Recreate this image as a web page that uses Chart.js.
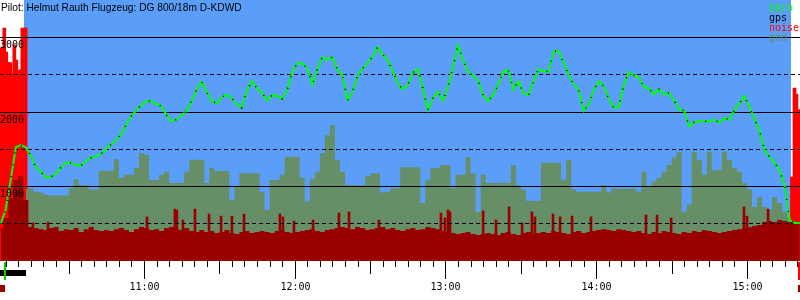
<!DOCTYPE html>
<html>
<head>
<meta charset="utf-8">
<script src="https://cdn.jsdelivr.net/npm/chart.js@4.4.1/dist/chart.umd.min.js"></script>
<style>
  html, body { margin: 0; padding: 0; background: #fff; }
  #wrap { width: 800px; height: 300px; }
</style>
</head>
<body>
<div id="wrap"><canvas id="chart" width="800" height="300"></canvas></div>
<script>
// times are minutes after midnight
const axisStart = 602.7;
const axisEnd = 921.1;
const sampleStart = 603;   // 10:03
const sampleStep = 2;      // one sample every 2 minutes
const gndOffset = 5;       // terrain profile begins at sample 5
const flightStart = 612.2;
const flightEnd = 917.5;
const engineRun = [602.7, 613.0];
const takeoffMark = 604.4;
const landingMark = 920.2;

const title = 'Pilot: Helmut Rauth Flugzeug: DG 800/18m D-KDWD';
const legendLabels = ['baro', 'gps', 'noise', 'gnd'];
const hourLabels = ['11:00', '12:00', '13:00', '14:00', '15:00'];
const altLabels = ['1000', '2000', '3000'];
const altGrid = [500, 1000, 1500, 2000, 2500, 3000];

// barometric altitude (m), one value per sample
const baroAlt = [
  490, 690, 1090, 1520, 1550, 1520, 1400, 1250, 1190, 1110,
  1120, 1170, 1250, 1310, 1310, 1280, 1270, 1340, 1380, 1400,
  1430, 1500, 1560, 1620, 1700, 1830, 1940, 2020, 2090, 2140,
  2140, 2100, 2070, 1950, 1870, 1890, 1950, 2010, 2150, 2300,
  2400, 2260, 2140, 2110, 2190, 2230, 2180, 2090, 2050, 2290,
  2410, 2310, 2250, 2150, 2220, 2210, 2170, 2290, 2530, 2650,
  2650, 2580, 2360, 2570, 2730, 2700, 2730, 2560, 2490, 2150,
  2270, 2480, 2580, 2650, 2740, 2870, 2770, 2690, 2540, 2380,
  2300, 2360, 2520, 2570, 2310, 2020, 2180, 2270, 2150, 2330,
  2600, 2890, 2690, 2540, 2480, 2410, 2220, 2140, 2220, 2370,
  2530, 2560, 2300, 2410, 2250, 2220, 2410, 2570, 2540, 2540,
  2810, 2810, 2660, 2490, 2370, 2290, 2010, 2090, 2290, 2410,
  2340, 2170, 2050, 2070, 2360, 2530, 2490, 2450, 2330, 2310,
  2230, 2300, 2230, 2250, 2150, 2030, 2010, 1800, 1860, 1870,
  1870, 1870, 1890, 1850, 1910, 1890, 2020, 2110, 2210, 2060,
  1900, 1740, 1480, 1390, 1310, 1210, 1000, 540, 500, 500
];

// gps altitude follows the baro trace within a few metres
const gpsAlt = baroAlt;

// terrain elevation under the track (m), from sample 5 on
const gndAlt = [
  950, 970, 920, 910, 880, 870, 870, 870, 870, 970,
  1090, 1010, 1010, 950, 950, 1200, 1200, 1200, 1360, 1110,
  1150, 1150, 1240, 1440, 1420, 1080, 1080, 1150, 1190, 1040,
  1040, 1040, 1190, 1350, 1350, 1350, 1040, 1240, 1200, 1200,
  1200, 810, 990, 1170, 1170, 1170, 1170, 920, 680, 1080,
  1080, 1150, 1390, 1390, 1390, 1110, 790, 1090, 1190, 1440,
  1680, 1820, 1350, 1190, 1010, 1010, 1010, 1010, 1130, 1170,
  1170, 910, 920, 970, 970, 1250, 1250, 1250, 1250, 770,
  1080, 1240, 1240, 1280, 1280, 970, 1150, 1150, 1390, 1170,
  650, 1150, 1040, 1040, 1040, 1040, 1040, 1280, 1010, 950,
  800, 800, 800, 1310, 1310, 1310, 1310, 1080, 1350, 950,
  920, 920, 920, 920, 920, 1010, 910, 970, 960, 960,
  960, 960, 920, 1190, 990, 1060, 1110, 1190, 1280, 1380,
  1460, 650, 750, 1460, 1350, 1150, 1460, 1210, 1210, 1460,
  1350, 1240, 1190, 1040, 950, 720, 850, 720, 680, 850,
  770, 650, 580
];

// engine noise level (0..1000), one value per sample
const noiseLevel = [
  126, 165, 241, 310, 326, 234, 130, 126, 122, 119,
  126, 130, 115, 122, 119, 126, 111, 122, 130, 119,
  115, 119, 115, 122, 126, 119, 111, 122, 130, 126,
  119, 122, 115, 126, 130, 122, 119, 126, 115, 111,
  119, 111, 115, 107, 111, 119, 107, 103, 111, 115,
  107, 111, 115, 111, 107, 115, 119, 111, 107, 111,
  115, 119, 122, 115, 111, 119, 122, 126, 130, 126,
  122, 130, 126, 119, 122, 126, 130, 122, 126, 119,
  115, 122, 126, 119, 122, 130, 126, 122, 115, 111,
  107, 103, 107, 111, 103, 100, 103, 107, 103, 100,
  107, 111, 103, 100, 107, 111, 103, 107, 111, 107,
  115, 111, 107, 103, 111, 115, 107, 111, 115, 119,
  122, 119, 115, 122, 119, 115, 111, 115, 107, 103,
  111, 107, 115, 111, 107, 103, 111, 107, 115, 111,
  119, 115, 111, 107, 111, 115, 119, 122, 126, 130,
  134, 138, 149, 153, 149, 157, 153, 149, 146, 142
];

// short noise peaks in flight
const spikeTimes = [
  615.8, 621.8, 661.2, 672.3, 673.1, 675.5, 680.3, 685.9, 690.7, 695.0,
  699.8, 714.1, 715.3, 719.7, 727.3, 737.6, 741.6, 753.5, 778.2, 779.8,
  781.0, 781.8, 795.0, 800.1, 805.3, 810.5, 814.4, 815.6, 822.8, 825.6,
  830.4, 837.9, 859.8, 864.2, 869.8, 898.8, 900.0, 908.4
];
const spikeLevel = [
  146, 149, 169, 199, 195, 157, 199, 180, 172, 172,
  180, 180, 169, 153, 157, 184, 188, 157, 184, 165,
  195, 188, 192, 157, 207, 146, 188, 169, 180, 169,
  172, 169, 176, 176, 165, 207, 172, 199
];

// engine running on the ground, before release and after landing
const engineTimes = [
  602.8, 603.6, 604.4, 605.2, 606.0, 606.8, 607.6, 608.4, 609.2, 610.0,
  610.8, 611.6, 612.4, 612.9, 917.9, 918.9, 919.7, 920.5
];
const engineLevel = [
  816, 816, 892, 800, 760, 760, 720, 827, 770, 730,
  732, 892, 892, 892, 322, 663, 640, 580
];

const BLUE = '#5a9ef9';
const GND = '#678f67';
const DARKRED = '#990000';
const RED = '#ff0000';
const GREEN = '#00ff00';
const MONO = '10px "DejaVu Sans Mono"';

const sampleTime = (i) => sampleStart + i * sampleStep;
const toPoints = (values, offset = 0) =>
  values.map((v, i) => ({ x: sampleTime(i + offset), y: v }));
const pairs = (times, values) => times.map((t, i) => ({ x: t, y: values[i] }));
const toMinutes = (label) => {
  const [h, m] = label.split(':').map(Number);
  return h * 60 + m;
};

const barogram = {
  id: 'barogram',
  beforeDatasetsDraw(chart) {
    const { ctx, chartArea: a, scales: { x } } = chart;
    const x0 = Math.round(x.getPixelForValue(flightStart));
    const x1 = Math.round(x.getPixelForValue(flightEnd));
    ctx.save();
    ctx.fillStyle = BLUE;
    ctx.fillRect(x0, 0, x1 - x0, a.bottom);
    ctx.restore();
  },
  afterDatasetDraw(chart, args) {
    // altitude grid sits over terrain and noise, under the traces
    if (args.meta.label !== 'spikes') return;
    const { ctx, scales: { y } } = chart;
    ctx.save();
    ctx.strokeStyle = '#000';
    ctx.lineWidth = 1;
    altGrid.forEach((v) => {
      const py = Math.round(y.getPixelForValue(v)) + 0.5;
      ctx.setLineDash(v % 1000 ? [4, 3] : []);
      ctx.beginPath();
      ctx.moveTo(0, py);
      ctx.lineTo(chart.width, py);
      ctx.stroke();
    });
    ctx.restore();
  },
  afterDraw(chart) {
    const { ctx, chartArea: a, scales: { x, y } } = chart;
    ctx.save();
    ctx.fillStyle = '#000';

    // time ticks: 5 min, 30 min, hour
    ctx.strokeStyle = '#000';
    ctx.lineWidth = 1;
    for (let m = Math.ceil(axisStart / 5) * 5; m <= axisEnd; m += 5) {
      const px = Math.round(x.getPixelForValue(m)) + 0.5;
      const len = m % 60 === 0 ? 18 : m % 30 === 0 ? 13 : 6;
      ctx.beginPath();
      ctx.moveTo(px, a.bottom);
      ctx.lineTo(px, a.bottom + len);
      ctx.stroke();
    }
    ctx.font = MONO;
    ctx.textAlign = 'center';
    ctx.textBaseline = 'alphabetic';
    hourLabels.forEach((lab) => {
      ctx.fillText(lab, Math.round(x.getPixelForValue(toMinutes(lab))) + 0.5, a.bottom + 29);
    });

    // altitude labels just under their lines
    ctx.textAlign = 'left';
    altLabels.forEach((lab) => {
      ctx.fillText(lab, 0, Math.round(y.getPixelForValue(Number(lab))) + 11);
    });

    // event marks under the axis
    const e0 = Math.round(x.getPixelForValue(engineRun[0]));
    const e1 = Math.round(x.getPixelForValue(engineRun[1]));
    ctx.fillStyle = '#000';
    ctx.fillRect(e0, a.bottom + 9, e1 - e0, 6);
    ctx.fillStyle = '#00cc00';
    ctx.fillRect(Math.round(x.getPixelForValue(takeoffMark)), a.bottom + 1, 2, 18);
    ctx.fillStyle = RED;
    ctx.fillRect(Math.round(x.getPixelForValue(landingMark)), a.bottom + 1, 2, 18);
    ctx.fillStyle = DARKRED;
    ctx.fillRect(e0, a.bottom + 24, 5, 7);
    ctx.fillRect(chart.width - 2, a.bottom + 24, 2, 7);

    // title and legend
    ctx.fillStyle = '#000';
    ctx.font = '10.2px "Liberation Sans"';
    ctx.fillText(title, 1, 11);
    ctx.font = MONO;
    const legendColors = [GREEN, '#000', RED, GND];
    legendLabels.forEach((lab, i) => {
      ctx.fillStyle = legendColors[i];
      ctx.fillText(lab, 769, 11 + i * 10);
    });
    ctx.restore();
  }
};

new Chart(document.getElementById('chart'), {
  type: 'line',
  data: {
    datasets: [
      {
        label: 'gps',
        data: toPoints(gpsAlt),
        borderColor: '#000',
        borderWidth: 1.5,
        borderDash: [1, 11],
        pointRadius: 0,
        fill: false
      },
      {
        label: 'baro',
        data: toPoints(baroAlt),
        borderColor: GREEN,
        borderWidth: 2,
        pointRadius: 0,
        fill: false
      },
      {
        type: 'bar',
        label: 'spikes',
        data: pairs(spikeTimes, spikeLevel),
        yAxisID: 'yNoise',
        backgroundColor: DARKRED,
        barThickness: 2,
        grouped: false
      },
      {
        label: 'noise',
        data: toPoints(noiseLevel),
        yAxisID: 'yNoise',
        stepped: 'middle',
        borderWidth: 0,
        pointRadius: 0,
        backgroundColor: DARKRED,
        fill: 'start'
      },
      {
        label: 'gnd',
        data: toPoints(gndAlt, gndOffset),
        stepped: 'middle',
        borderWidth: 0,
        pointRadius: 0,
        backgroundColor: GND,
        fill: 'start'
      },
      {
        type: 'bar',
        label: 'engine',
        data: pairs(engineTimes, engineLevel),
        yAxisID: 'yNoise',
        backgroundColor: RED,
        barThickness: 3,
        grouped: false
      }
    ]
  },
  options: {
    responsive: false,
    animation: false,
    events: [],
    layout: { padding: { left: 0, right: 0, top: 0, bottom: 39 } },
    scales: {
      x: { type: 'linear', min: axisStart, max: axisEnd, offset: false, display: false },
      y: { min: -10, max: 3500, display: false },
      yNoise: { min: 0, max: 1000, display: false }
    },
    plugins: {
      legend: { display: false },
      tooltip: { enabled: false }
    }
  },
  plugins: [barogram]
});
</script>
</body>
</html>
